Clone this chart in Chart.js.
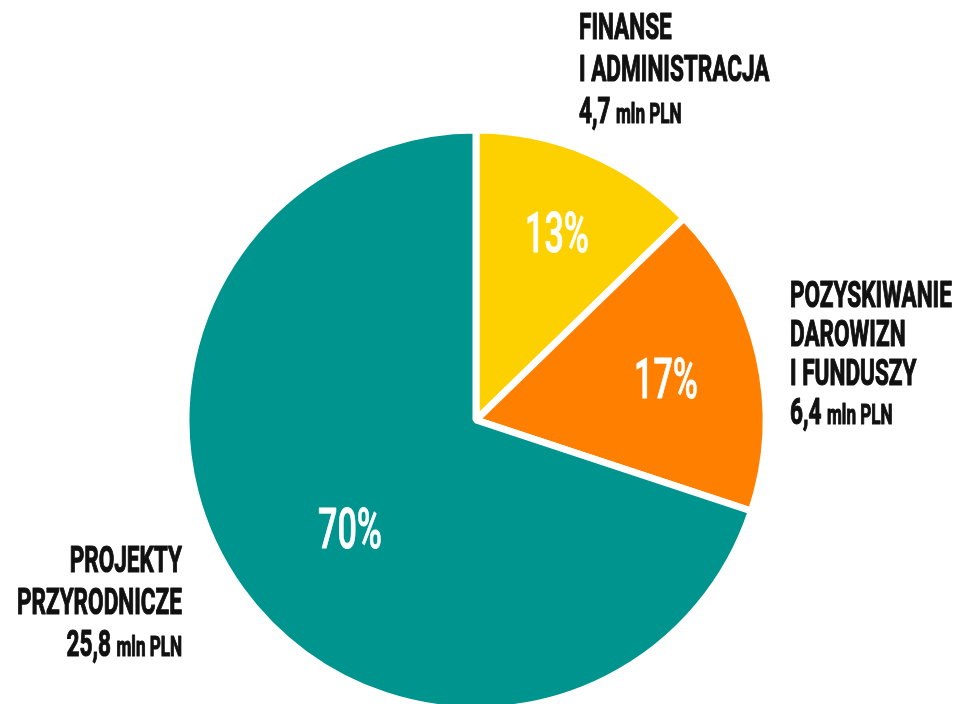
<!DOCTYPE html>
<html lang="pl">
<head>
<meta charset="utf-8">
<script src="https://cdn.jsdelivr.net/npm/chart.js@4.4.0/dist/chart.umd.min.js"></script>
<style>
  html, body { margin: 0; padding: 0; background: #fff; overflow: hidden; }
  #wrap { width: 978px; height: 704px; position: relative; }
</style>
</head>
<body>
<div id="wrap"><canvas id="budzet"></canvas></div>
<script>
var kategorie = [
  ["FINANSE", "I ADMINISTRACJA"],
  ["POZYSKIWANIE", "DAROWIZN", "I FUNDUSZY"],
  ["PROJEKTY", "PRZYRODNICZE"]
];
var kwoty = [4.7, 6.4, 25.8];
var kolory = ["#fdd000", "#ff8000", "#00948f"];
var jednostka = "mln PLN";

// opisy obok kola (przesuniecie od srodka kola, pierwsza linia bazowa)
var opisy = [
  { dx: 103, dy: -381, lh: 42, align: "left" },
  { dx: 314, dy: -113, lh: 39, align: "left" },
  { dx: -294, dy: 152, lh: 42, align: "right" }
];
// procenty wewnatrz wycinkow
var procenty = [
  { dx: 81, dy: -188 },
  { dx: 190, dy: -42 },
  { dx: -126, dy: 108 }
];

var FONT = 'Roboto, "DejaVu Sans", sans-serif';
var SX = 0.61;

function tekst(ctx, txt, x, y, font, sx, gr) {
  ctx.save();
  ctx.font = font;
  ctx.translate(x, y);
  ctx.scale(sx, 1);
  ctx.fillText(txt, 0, 0);
  if (gr) {
    ctx.lineWidth = gr;
    ctx.lineJoin = "round";
    ctx.strokeStyle = ctx.fillStyle;
    ctx.strokeText(txt, 0, 0);
  }
  ctx.restore();
}

function szer(ctx, txt, font, sx) {
  ctx.save();
  ctx.font = font;
  var w = ctx.measureText(txt).width * sx;
  ctx.restore();
  return w;
}

var etykiety = {
  id: "etykiety",
  afterDatasetsDraw: function (chart) {
    var ctx = chart.ctx;
    var luk = chart.getDatasetMeta(0).data[0];
    var cx = luk.x;
    var cy = luk.y;
    var suma = kwoty.reduce(function (a, b) { return a + b; }, 0);

    ctx.save();
    ctx.textBaseline = "alphabetic";
    ctx.textAlign = "left";

    // procenty
    ctx.fillStyle = "#ffffff";
    var fProc = "500 56px " + FONT;
    for (var i = 0; i < kwoty.length; i++) {
      var p = Math.round((kwoty[i] / suma) * 100) + "%";
      var w = szer(ctx, p, fProc, 0.61);
      tekst(ctx, p, cx + procenty[i].dx - w / 2, cy + procenty[i].dy + 20, fProc, 0.61, 0.8);
    }

    // opisy
    ctx.fillStyle = "#111111";
    var fDuzy = "bold 37px " + FONT;
    var fMaly = "bold 28px " + FONT;
    for (var i = 0; i < kategorie.length; i++) {
      var o = opisy[i];
      var x0 = cx + o.dx;
      var y = cy + o.dy;
      for (var j = 0; j < kategorie[i].length; j++) {
        var l = kategorie[i][j];
        var w = szer(ctx, l, fDuzy, SX);
        tekst(ctx, l, o.align == "right" ? x0 - w : x0, y, fDuzy, SX, 1.2);
        y += o.lh;
      }
      var liczba = kwoty[i].toFixed(1).replace(".", ",") + " ";
      var w1 = szer(ctx, liczba, fDuzy, SX);
      var w2 = szer(ctx, jednostka, fMaly, SX);
      var xs = o.align == "right" ? x0 - w1 - w2 : x0;
      tekst(ctx, liczba, xs, y, fDuzy, SX, 1.2);
      tekst(ctx, jednostka, xs + w1, y, fMaly, SX, 1.2);
    }
    ctx.restore();
  }
};

new Chart(budzet, {
  type: "pie",
  data: {
    labels: kategorie.map(function (k) { return k.join(" "); }),
    datasets: [
      {
        data: kwoty,
        backgroundColor: kolory,
        borderColor: "#ffffff",
        borderWidth: 7,
        radius: 290
      }
    ]
  },
  options: {
    responsive: true,
    maintainAspectRatio: false,
    animation: false,
    layout: {
      padding: { left: 0, right: 26, top: 136, bottom: 0 }
    },
    plugins: {
      legend: { display: false },
      tooltip: { enabled: false }
    }
  },
  plugins: [etykiety]
});
</script>
</body>
</html>
